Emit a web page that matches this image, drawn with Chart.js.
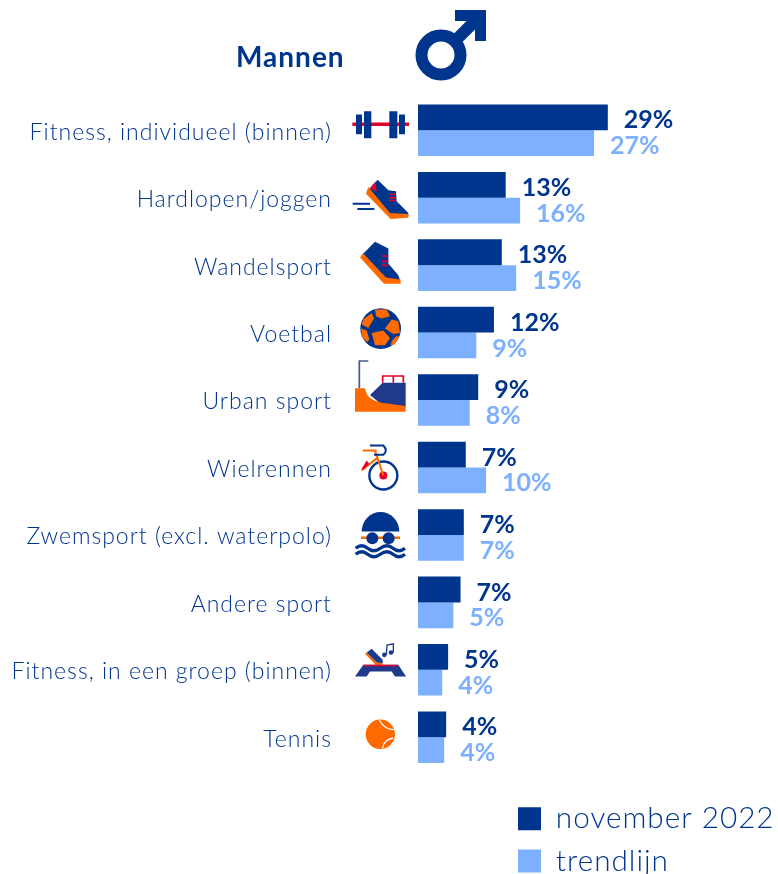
<!DOCTYPE html>
<html>
<head>
<meta charset="utf-8">
<style>
    html, body { margin: 0; padding: 0; background: #fff; }
    canvas { display: block; }
</style>
<script src="https://cdn.jsdelivr.net/npm/chart.js@4"></script>
</head>
<body>
<canvas id="sportChart" width="778" height="874"></canvas>
<script>
const categories = [
    "Fitness, individueel (binnen)", "Hardlopen/joggen", "Wandelsport", "Voetbal", "Urban sport",
    "Wielrennen", "Zwemsport (excl. waterpolo)", "Andere sport", "Fitness, in een groep (binnen)", "Tennis"
];
const november2022 = [29.0, 13.4, 12.8, 11.6, 9.2, 7.3, 7.0, 6.5, 4.6, 4.3];
const trendlijn = [26.9, 15.6, 15.0, 8.9, 7.9, 10.4, 7.0, 5.4, 3.7, 4.0];

const NAVY = "#00358e";
const LIGHT = "#7db0ff";
const ORANGE = "#ff6a00";
const RED = "#e4002b";
const FONT = "Lato, sans-serif";

// icon paths are written in 3x crop coordinates, ox/dy put them next to their row
const icons = [
    { ox: 340, dy: -130, parts: [
        { stroke: RED, width: 11, d: "M37 372H207" },
        { fill: NAVY, d: "M48 343H66V402H48ZM72 333H94V414H72ZM148 333H172V414H148ZM177 343H195V402H177Z" }
    ] },
    { ox: 340, dy: -198, parts: [
        { fill: NAVY, d: "M113 540L145 572L168 575L170 605L205 640V648L150 648L85 572Z" },
        { fill: RED, d: "M90 565L107 545L110 578Z" },
        { fill: ORANGE, d: "M85 562L150 640L205 643V654L152 658L78 582Z" },
        { fill: RED, d: "M148 582H168V587H148ZM148 592H168V597H148ZM148 600H168V605H148Z" },
        { stroke: NAVY, width: 6, d: "M38 612H90M52 628H103" }
    ] },
    { ox: 340, dy: -265, parts: [
        { fill: NAVY, d: "M105 725L145 745L145 790L175 825L180 840L135 840L65 765Z" },
        { fill: ORANGE, d: "M60 772L70 760L138 832L182 838V851L132 851Z" },
        { fill: RED, d: "M125 765H145V770H125ZM125 780H145V785H125ZM125 793H145V798H125Z" }
    ] },
    { ox: 350, dy: -28, parts: [
        { circle: [92, 72, 61], fill: NAVY },
        { fill: ORANGE, d: "M75 15L110 15L120 35L95 42L78 35ZM40 45L65 25L72 42L55 70L35 60ZM125 45L145 50L150 85L130 88L105 72ZM65 85L100 78L120 100L105 122L75 122ZM33 72L50 78L58 105L52 112L38 100ZM138 95L148 95L135 118L122 124L125 110Z" }
    ] },
    { ox: 340, dy: -100, parts: [
        { stroke: "#44588f", width: 5, d: "M58 265V183H85" },
        { fill: "#1f3a8a", d: "M90 285L128 248H197V320L120 310Z" },
        { fill: ORANGE, d: "M45 265H75Q80 300 125 308L197 318V335H45Z" },
        { stroke: RED, width: 5, d: "M128 248V228H190V248M160 228V248" }
    ] },
    { ox: 350, dy: -27, parts: [
        { stroke: NAVY, width: 7, circle: [100, 105, 42] },
        { fill: RED, circle: [100, 105, 12] },
        { stroke: ORANGE, width: 6, d: "M100 105L75 30M38 30H80M35 90L85 50" },
        { stroke: NAVY, width: 6, d: "M60 15H100Q115 30 100 43H72" },
        { fill: RED, d: "M35 85L50 60L58 70L40 88Z" }
    ] },
    { ox: 345, dy: -35, parts: [
        { fill: NAVY, d: "M50 95A56 58 0 0 1 163 95Z" },
        { fill: ORANGE, d: "M48 110H165V117H48Z" },
        { fill: NAVY, circle: [82, 115, 18] },
        { fill: NAVY, circle: [131, 115, 18] },
        { stroke: NAVY, width: 10, d: "M32 145Q50 130 68 145T106 145T144 145T180 145M32 163Q50 148 68 163T106 163T144 163T180 163" }
    ] },
    null,
    { ox: 340, dy: -100, parts: [
        { fill: "#1f3a8a", d: "M70 285H175L198 320H165L155 305H90L80 320H45Z" },
        { fill: ORANGE, d: "M75 252L80 248L110 278L128 280V286L108 286Z" },
        { fill: "#1f3a8a", d: "M80 248L95 237L128 270V280L110 278Z" },
        { stroke: RED, width: 4, d: "M70 287H172" },
        { fill: "#1f3a8a", d: "M133 248A7 7 0 1 0 133 262A7 7 0 1 0 133 248ZM153 241A7 7 0 1 0 153 255A7 7 0 1 0 153 241Z" },
        { stroke: "#1f3a8a", width: 4, d: "M139 255L141 226L160 222V248" }
    ] },
    { ox: 340, dy: -167, parts: [
        { fill: ORANGE, circle: [121, 492, 44] },
        { stroke: "#fff", width: 4, d: "M118 450Q135 480 165 478M128 534Q130 510 160 503" }
    ] }
];

function drawParts(ctx, parts) {
    parts.forEach((part) => {
        const path = new Path2D();
        if (part.circle) {
            path.arc(part.circle[0], part.circle[1], part.circle[2], 0, Math.PI * 2);
        } else {
            path.addPath(new Path2D(part.d));
        }
        if (part.fill) {
            ctx.fillStyle = part.fill;
            ctx.fill(path);
        }
        if (part.stroke) {
            ctx.strokeStyle = part.stroke;
            ctx.lineWidth = part.width;
            ctx.stroke(path);
        }
    });
}

const sportPlugin = {
    id: "sportPlugin",
    afterUpdate(chart) {
        // the title and the stacked legend sit where the layout would not put them
        chart.titleBlock.left = 236;
        chart.titleBlock.right = 778;
        const legend = chart.legend;
        legend.left = 505.5;
        legend.right = 778;
        legend.top = 791.5;
        legend.bottom = 1000;

        // category labels sit a little under the row centre
        chart.scales.y.getLabelItems().forEach((item) => {
            item.options.translation[1] += 2;
        });
    },
    beforeDraw(chart) {
        chart.ctx.letterSpacing = "1px";
    },
    afterDatasetsDraw(chart) {
        const ctx = chart.ctx;
        const yScale = chart.scales.y;

        // value labels
        ctx.save();
        ctx.letterSpacing = "0px";
        ctx.textAlign = "left";
        ctx.textBaseline = "middle";
        chart.data.datasets.forEach((dataset, d) => {
            ctx.fillStyle = dataset.backgroundColor;
            ctx.font = "700 25px " + FONT;
            chart.getDatasetMeta(d).data.forEach((bar, i) => {
                ctx.fillText(Math.round(dataset.data[i]) + "%", bar.x + 16, bar.y + 3);
            });
        });
        ctx.restore();

        // male sign
        ctx.save();
        ctx.strokeStyle = NAVY;
        ctx.lineWidth = 12;
        ctx.beginPath();
        ctx.arc(441, 55, 19.5, 0, Math.PI * 2);
        ctx.moveTo(455, 41);
        ctx.lineTo(478, 18);
        ctx.stroke();
        ctx.fillStyle = NAVY;
        ctx.fill(new Path2D("M455 10H486V41H475V21H455Z"));
        ctx.restore();

        // row icons
        icons.forEach((icon, i) => {
            if (!icon) return;
            ctx.save();
            ctx.translate(icon.ox, yScale.getPixelForValue(i) + icon.dy);
            ctx.scale(1 / 3, 1 / 3);
            drawParts(ctx, icon.parts);
            ctx.restore();
        });
    }
};

new Chart(document.getElementById("sportChart"), {
    type: "bar",
    data: {
        labels: categories,
        datasets: [
            { label: "november 2022", data: november2022, backgroundColor: NAVY },
            { label: "trendlijn", data: trendlijn, backgroundColor: LIGHT }
        ]
    },
    options: {
        indexAxis: "y",
        responsive: false,
        animation: false,
        layout: { padding: { top: 0, bottom: 103, left: 0, right: 0 } },
        datasets: { bar: { categoryPercentage: 0.764, barPercentage: 1 } },
        scales: {
            x: { display: false, min: 0, max: 55 },
            y: {
                afterFit(axis) { axis.width = 418; },
                grid: { display: false },
                border: { display: false },
                ticks: { color: NAVY, padding: 78, font: { family: FONT, size: 23, weight: "300" } }
            }
        },
        plugins: {
            title: {
                display: true,
                text: "Mannen",
                align: "start",
                color: NAVY,
                padding: { top: 41.5, bottom: 21.4 },
                font: { family: FONT, size: 28, weight: "700", lineHeight: 1.2 }
            },
            legend: {
                position: "chartArea",
                align: "start",
                labels: {
                    color: NAVY,
                    boxWidth: 23,
                    boxHeight: 23,
                    padding: 12.5,
                    font: { family: FONT, size: 29.7, weight: "300" }
                }
            },
            tooltip: { enabled: false }
        }
    },
    plugins: [sportPlugin]
});
</script>
</body>
</html>
